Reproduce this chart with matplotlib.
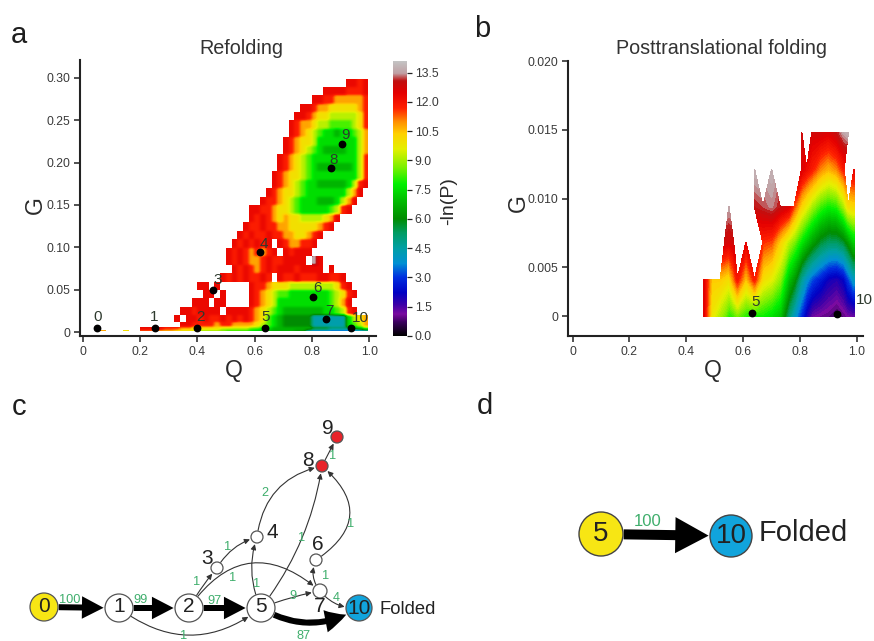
import numpy as np
import matplotlib
matplotlib.use("Agg")
import matplotlib.pyplot as plt
from matplotlib.colors import LinearSegmentedColormap, Normalize
from matplotlib.patches import FancyArrowPatch, Circle

plt.rcParams['font.family'] = ['Liberation Sans', 'DejaVu Sans']
W, H = 874, 641
TXT = '#3a3a3a'
GREEN = '#3fae6c'

# ---------- data panel a: -ln(P) read per cell; '.' = empty
a_codes = {'2': 2.0, '3': 3.0, '4': 4.4, '5': 5.2, '6': 6.0, '7': 6.8, 'g': 7.5, '8': 8.3, '9': 9.2,
           'a': 10.0, 'b': 10.8, 'c': 11.8, 'd': 12.3, 'e': 13.6}
a_Q_edges = [0.02 * i for i in range(51)]
a_G_edges = [0.30, 0.29, 0.28, 0.27, 0.26, 0.25, 0.24, 0.23, 0.22, 0.21, 0.20,
             0.19, 0.18, 0.17, 0.16, 0.15, 0.14, 0.13, 0.12, 0.11, 0.10,
             0.09, 0.08, 0.07, 0.06, 0.05, 0.04, 0.03, 0.02, 0.012, 0.006, 0.003, 0.0016]
e5 = '..... '
a_rows = [
 e5*9 + ".ddcd",
 e5*8 + "..ddd dcccd",
 e5*8 + "ddccb bbbbc",
 e5*7 + "...dd cbbaa aaabc",
 e5*7 + "..ddc baa99 999ac",
 e5*7 + ".dcbb a9988 889ac",
 e5*7 + ".dcba 98gg7 gg89b",
 e5*7 + "dcbaa 9gggg ggg9b",
 e5*7 + "dcba9 8g777 7gg9b",
 e5*6 + "....d cba98 ggggg ggg9c",
 e5*6 + "....d cba98 g7777 77g9c",
 e5*6 + "...dc baa98 ggggg ggg9c",
 e5*6 + "...dc ba98g g7777 7g9cd",
 e5*6 + "..dcb aa98g ggggg g9bd.",
 e5*6 + ".dccb a98gg g777g 9bd..",
 e5*5 + "....d dccba a98gg ggg89 cd...",
 e5*5 + "....d cdcba baa99 99abd .....",
 e5*5 + "...dc cdccb baaaa abcd. .....",
 e5*5 + "..dcd ccdcc bbaab cd... .....",
 e5*5 + ".dcdc dcd.d cbbcc d.... .....",
 e5*5 + "dcdcb cbcd. dcddd ..... .....",
 e5*5 + "dcdcb bcdcc dddd. ed... .....",
 e5*5 + ".dcdc bcdcd ddcdd dd.d. .....",
 e5*4 + "....d cdcdc cdc.d ccdcc cddcc d....",
 e5*4 + "dd.d. ....d ccbaa a9999 9999a cd...",
 e5*4 + ".dd.d ....d cba98 8gggg ggg89 acd..",
 e5*3 + "....d dd.dd ....d cba9g ggggg ggg89 bd...",
 e5*3 + "..ddc dddd. ddddc ba98g 77777 77gg8 9cd..",
 e5*3 + ".d.dd cdccd cdcdc ba8g7 66666 44444 4g9ab",
 e5*3 + "..ddc cccbc cbbbb a98g7 66666 44444 4g89b",
 e5*2 + "ddcdc ccbba aaaa9 99998 8gg77 77777 66655 55678",
 "...b. ..a.. bbbaa a9999 88888 ggggg 77777 77663 22222 22222",
]
a_nodes = ['0', '1', '2', '3', '4', '5', '6', '7', '8', '9', '10']
a_node_Q = [0.05, 0.25, 0.40, 0.455, 0.62, 0.635, 0.805, 0.85, 0.865, 0.905, 0.935]
a_node_G = [0.005, 0.005, 0.005, 0.049, 0.095, 0.005, 0.041, 0.015, 0.194, 0.222, 0.005]

# ---------- data panel b
b_Q = [0.46, 0.49, 0.52, 0.535, 0.55, 0.566, 0.58, 0.61, 0.64, 0.67, 0.70, 0.73, 0.76, 0.78, 0.806,
       0.824, 0.842, 0.872, 0.90, 0.93, 0.955, 0.97, 0.99]
b_G = [0.00143, 0.0041, 0.0068, 0.0094, 0.0121, 0.0148]
n = np.nan
b_vals = [
 [12.6, 9.8, 9.0, 8.6, 8.0, 8.2, 8.6, 8.0, 7.8, 7.8, 7.5, 7.0, 5.0, 4.0, 2.8, 1.8, 1.2, 1.0, 0.9, 0.6, 0.9, 1.1, 1.2],
 [12.6, 10.4, 10.4, 10.2, 10.0, 11.0, 11.9, 10.4, 11.8, 10.0, 9.6, 8.8, 7.0, 6.2, 4.6, 3.8, 3.2, 2.6, 2.0, 1.8, 2.2, 3.0, 4.0],
 [n, n, n, 12.8, 12.6, 12.8, n, 12.4, n, 11.6, 11.4, 10.3, 9.2, 8.6, 7.6, 7.0, 6.4, 5.6, 5.2, 5.2, 5.6, 6.2, 7.2],
 [n, n, n, n, 13.6, n, n, n, 13.0, 13.2, 13.4, 13.0, 12.6, 11.4, 10.2, 9.6, 9.0, 8.2, 7.8, 8.0, 9.0, 10.0, 10.2],
 [n, n, n, n, n, n, n, n, 13.8, n, 13.8, n, n, n, 12.6, 12.2, 11.8, 11.0, 10.6, 11.0, 11.8, n, 12.4],
 [n, n, n, n, n, n, n, n, n, n, n, n, n, n, 12.9, n, 12.8, 12.8, 12.6, 13.0, 13.6, 13.8, n],
]
b_node_Q = [0.63, 0.93]
b_node_G = [0.0017, 0.0016]
b_ticks = [0.00143, 0.005, 0.010, 0.015, 0.020]
b_ticklabels = ['0', '0.005', '0.010', '0.015', '0.020']

# ---------- data networks
net_names = ['0', '1', '2', '3', '4', '5', '6', '7', '8', '9', '10']
net_x = [44, 119, 189, 217, 257, 261, 316, 320, 322, 337, 359]
net_y = [607, 608, 608, 568, 537, 608, 560, 591, 466, 437, 608]
net_r = [14, 14, 14, 6, 6, 14, 6, 7, 6, 6, 13]
net_fill = ['#f7e614', 'white', 'white', 'white', 'white', 'white', 'white', 'white',
            '#e8232a', '#e8232a', '#11a4dc']
thin_edges = [('1', '5', '1', 0.38), ('2', '3', '1', -0.05), ('3', '4', '1', -0.2),
              ('4', '8', '2', -0.35), ('5', '4', '1', -0.2), ('5', '8', '1', 0.13),
              ('2', '7', '1', -0.55), ('5', '7', '9', -0.05), ('7', '10', '4', 0.25),
              ('7', '6', '1', -0.3), ('6', '8', '1', 0.65), ('8', '9', '1', 0.0)]
thick_edges = [('0', '1', '100', 0.0), ('1', '2', '99', 0.0), ('2', '5', '97', 0.0),
               ('5', '10', '87', 0.3)]
flow_label_x = [70, 141, 214, 184, 197, 228, 233, 265, 257, 302, 326, 293, 336, 351, 333, 304]
flow_label_y = [600, 600, 601, 636, 582, 547, 578, 493, 584, 538, 576, 596, 598, 524, 456, 636]
flow_label_t = ['100', '99', '97', '1', '1', '1', '1', '2', '1', '1', '1', '9', '4', '1', '1', '87']
net_num_x = [44, 119, 189, 207, 272, 261, 318, 320, 308, 328, 359]
net_num_y = [606, 607, 607, 559, 533, 607, 545, 606, 460, 428, 608]

# ---------- colormap
stops = [(0.0, '#000000'), (0.7, '#3c0060'), (1.1, '#7a0aa0'), (1.6, '#3a00a8'), (2.2, '#0000c4'),
         (3.0, '#0030e0'), (3.7, '#0090d4'), (4.5, '#00a0a4'), (5.3, '#009c60'), (6.0, '#008c00'),
         (7.0, '#00c000'), (7.8, '#00f000'), (8.7, '#80f000'), (9.6, '#e4f000'), (10.4, '#ffd000'),
         (11.0, '#ff9000'), (11.7, '#ff2000'), (12.5, '#e40000'), (13.1, '#c01010'),
         (13.5, '#c0a0a4'), (14.1, '#c4c4c4')]
VMAX = 14.1
cmap = LinearSegmentedColormap.from_list('fe', [(v / VMAX, c) for v, c in stops], N=512)
norm = Normalize(0, VMAX)
levels = np.linspace(0, VMAX, 95)

fig = plt.figure(figsize=(W / 100, H / 100), dpi=100)


def axpx(l, t, r, b):
    return fig.add_axes([l / W, 1 - b / H, (r - l) / W, (b - t) / H])


def style(ax):
    for s in ('top', 'right'):
        ax.spines[s].set_visible(False)
    for s in ('left', 'bottom'):
        ax.spines[s].set_linewidth(1.5)
        ax.spines[s].set_color('#222222')
    ax.tick_params(direction='out', length=4, width=1.1, color='#222222',
                   labelcolor=TXT, labelsize=8.8, pad=3)


def smooth(Z):
    """NaN-aware box smoothing that keeps the empty cells empty."""
    m = np.isfinite(Z)
    v = np.where(m, Z, 0.0)
    w = m.astype(float)
    k = np.array([1, 2, 3, 2, 1], float)
    for ax_ in (0, 1, 1):
        v = np.apply_along_axis(lambda s: np.convolve(s, k, 'same'), ax_, v)
        w = np.apply_along_axis(lambda s: np.convolve(s, k, 'same'), ax_, w)
    out = np.full(Z.shape, np.nan)
    out[m] = v[m] / w[m]
    return out


# ---------- panel a
ax = axpx(80, 60, 376, 336)
style(ax)
A = np.array([[a_codes.get(c, np.nan) for c in r.replace(' ', '').ljust(50, '.')] for r in a_rows], float)
qe = np.array(a_Q_edges)
ge = np.array(a_G_edges)[::-1]
Agrid = A[::-1]
fq = np.arange(0, 1.0001, 0.0035)
fg = np.arange(ge[0], ge[-1] + 1e-6, 0.00118)
iq = np.clip(np.searchsorted(qe, (fq[:-1] + fq[1:]) / 2) - 1, 0, Agrid.shape[1] - 1)
ig = np.clip(np.searchsorted(ge, (fg[:-1] + fg[1:]) / 2) - 1, 0, Agrid.shape[0] - 1)
Z = smooth(Agrid[np.ix_(ig, iq)])
ax.pcolormesh(fq, fg, np.ma.masked_invalid(Z), cmap=cmap, norm=norm, shading='flat', rasterized=True)
ax.set_xlim(-0.0105, 1.024)
ax.set_ylim(-0.0047, 0.321)
ax.set_xticks([0, .2, .4, .6, .8, 1.0], ['0', '0.2', '0.4', '0.6', '0.8', '1.0'])
ax.set_yticks([0, .05, .10, .15, .20, .25, .30], ['0', '0.05', '0.10', '0.15', '0.20', '0.25', '0.30'])
ax.plot(a_node_Q, a_node_G, 'o', color='k', ms=4.6, clip_on=False, zorder=5)
a_off = {'0': (0, 11), '1': (0, 11), '2': (3, 11), '3': (5, 10), '4': (3, 8), '5': (1, 11), '6': (4, 9),
         '7': (3, 8), '8': (3, 8), '9': (4, 9), '10': (10, 10)}
for nm, q, g in zip(a_nodes, a_node_Q, a_node_G):
    ox, oy = a_off[nm]
    ax.annotate(nm, (q, g), xytext=(ox * 0.72, oy * 0.72), textcoords='offset points', ha='center', va='center',
                fontsize=11, color='#2e3a2e', zorder=6)

cax = axpx(393, 61, 407, 336)
grad = np.linspace(0, VMAX, 256)[:, None]
cax.imshow(grad, origin='lower', aspect='auto', cmap=cmap, norm=norm, extent=(0, 1, 0, VMAX))
cax.set_xticks([])
cax.yaxis.tick_right()
cax.set_yticks(np.arange(0, 13.6, 1.5), [f'{v:.1f}' for v in np.arange(0, 13.6, 1.5)])
cax.tick_params(length=3.5, width=0.9, color='#222222', labelcolor=TXT, labelsize=8.8, pad=2)
for s in cax.spines.values():
    s.set_visible(False)

# ---------- panel b
bx = axpx(568, 61, 863, 336)
style(bx)
B = np.array(b_vals, float)
cs = bx.contourf(b_Q, b_G, np.ma.masked_invalid(B), levels=levels, cmap=cmap, norm=norm, corner_mask=True)
cs.set_edgecolor('face')
cs.set_linewidth(0.3)
bx.set_xlim(-0.0165, 1.022)
bx.set_ylim(0.0, 0.0200)
bx.set_xticks([0, .2, .4, .6, .8, 1.0], ['0', '0.2', '0.4', '0.6', '0.8', '1.0'])
bx.set_yticks(b_ticks, b_ticklabels)
bx.plot(b_node_Q, b_node_G, 'o', color='k', ms=4.6, zorder=5, clip_on=False)
bx.text(0.628, 0.0020, '5', ha='left', va='bottom', fontsize=11, color='#2e3a2e')

# ---------- overlay in pixel coordinates
ov = fig.add_axes([0, 0, 1, 1], facecolor='none')
ov.set_xlim(0, W)
ov.set_ylim(H, 0)
ov.axis('off')


def T(x, y, s, size, **kw):
    kw.setdefault('color', '#1e1e1e')
    kw.setdefault('ha', 'center')
    kw.setdefault('va', 'center')
    ov.text(x, y, s, fontsize=size, **kw)


T(873, 300, '10', 11, ha='right', color='#2e3a2e')
for x, y, s in [(19, 35, 'a'), (482, 29, 'b'), (19, 407, 'c'), (485, 406, 'd')]:
    T(x, y, s, 21)
T(241, 48, 'Refolding', 14.2, color='#333333')
T(721, 48, 'Posttranslational folding', 14.2, color='#333333')
T(35, 205, 'G', 16.5, rotation=90, color='#2a2a2a')
T(234, 370, 'Q', 16.5, color='#2a2a2a')
T(518, 203, 'G', 16.5, rotation=90, color='#2a2a2a')
T(713, 371, 'Q', 16.5, color='#2a2a2a')
T(449, 201, '-ln(P)', 14, rotation=90, color='#2a2a2a')

pos = {nm: (x, y, r) for nm, x, y, r in zip(net_names, net_x, net_y, net_r)}


def arrow(a, b, rad, style_, lw=0.0, ms=1.0, color='#222222'):
    xa, ya, ra = pos[a]
    xb, yb, rb = pos[b]
    p = FancyArrowPatch((xa, ya), (xb, yb), connectionstyle=f'arc3,rad={rad}', arrowstyle=style_,
                        mutation_scale=ms, lw=lw, color=color,
                        shrinkA=ra * 0.72 + 0.5, shrinkB=rb * 0.72 + 1, zorder=2)
    ov.add_patch(p)


for a, b, _, rad in thin_edges:
    arrow(a, b, rad, '-|>,head_length=0.45,head_width=0.22', lw=0.8, ms=7, color='#333333')
for a, b, _, rad in thick_edges:
    arrow(a, b, rad, 'simple,head_length=1.3,head_width=1.35,tail_width=0.36', lw=0, ms=12, color='#000000')
for nm, x, y, r, f in zip(net_names, net_x, net_y, net_r, net_fill):
    ov.add_patch(Circle((x, y), r, facecolor=f, edgecolor='#555555', lw=0.9, zorder=3))
for nm, x, y in zip(net_names, net_num_x, net_num_y):
    T(x, y, nm, 15, zorder=4, color='#222222')
for x, y, s in zip(flow_label_x, flow_label_y, flow_label_t):
    T(x, y, s, 9.2, color=GREEN, zorder=4)
T(408, 610, 'Folded', 13.2, color='#222222')

# ---------- panel d
pos.update({'d5': (601, 534, 22), 'd10': (731, 536, 21)})
arrow('d5', 'd10', 0.0, 'simple,head_length=1.2,head_width=1.3,tail_width=0.36', lw=0, ms=20, color='#000000')
for nm, lbl, f in [('d5', '5', '#f7e614'), ('d10', '10', '#11a4dc')]:
    x, y, r = pos[nm]
    ov.add_patch(Circle((x, y), r, facecolor=f, edgecolor='#444444', lw=1.0, zorder=3))
    T(x, y, lbl, 20, zorder=4, color='#222222')
T(648, 522, '100', 12, color=GREEN)
T(803, 533, 'Folded', 21, color='#222222')

fig.savefig('out.png', dpi=100)
